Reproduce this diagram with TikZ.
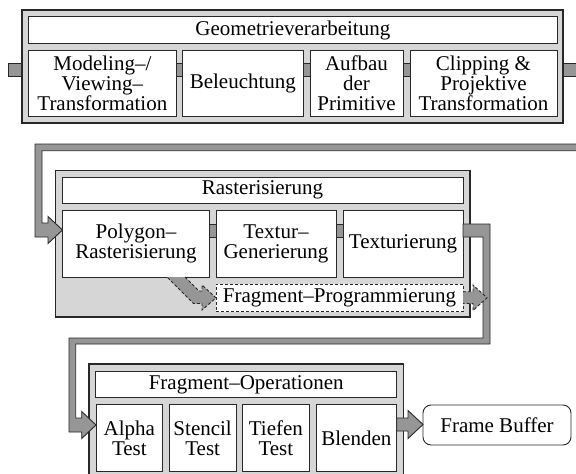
\documentclass[tikz,border=0pt]{standalone}
\usepackage{fontspec}
\setmainfont{Liberation Serif}
\definecolor{blockgray}{RGB}{214,214,214}
\definecolor{arrgray}{RGB}{150,150,150}
\definecolor{edgec}{RGB}{40,40,40}
\tikzset{
 txt/.style={font=\fontsize{21}{20}\selectfont, align=center},
 stage/.style={draw=edgec, fill=white, line width=0.9pt, inner sep=0pt, outer sep=0pt, txt},
 block/.style={draw=edgec, fill=blockgray, line width=1.1pt, inner sep=0pt, outer sep=0pt},
 optstage/.style={stage, dash pattern=on 3pt off 2pt},
 buffer/.style={stage, rounded corners=8pt},
 fatarrow/.style={draw=edgec, fill=arrgray, line width=0.9pt, line join=miter},
 optarrow/.style={fatarrow, dash pattern=on 3pt off 2pt},
}
\newcommand\bx[7][stage]{\node[#1, minimum width={#5-#3}, minimum height={#6-#4}] (#2) at ({(#3+#5)/2},{(#4+#6)/2}) {#7};}
\begin{document}
\begin{tikzpicture}[x=1pt,y=-1pt]
\useasboundingbox (0,0) rectangle (576,474);
\clip (0,0) rectangle (576,474);
% ---------- Geometrieverarbeitung ----------
\draw[fatarrow] (8,63.5) rectangle (30,76.7);
\bx[block]{geo}{22}{10}{563}{123}{}
\draw[fatarrow] (563,63.5) rectangle (590,76.7);
\draw[fatarrow] (170,63.5) rectangle (189,76.7);
\draw[fatarrow] (297,63.5) rectangle (316,76.7);
\draw[fatarrow] (397,63.5) rectangle (416,76.7);
\bx{geotitle}{28.7}{16.7}{557}{43.3}{Geometrieverarbeitung}
\bx{mv}{28.7}{50}{176}{116.7}{Modeling–/\\Viewing–\\Transformation}
\bx{bel}{182.7}{50}{303}{116.7}{Beleuchtung}
\bx{auf}{310}{50}{403}{116.7}{Aufbau\\der\\Primitive}
\bx{clip}{410}{50}{557}{116.7}{Clipping \&\\Projektive\\Transformation}
% ---------- Rasterisierung ----------
\bx[block]{ras}{55.7}{170.7}{470}{317}{}
\draw[fatarrow] (203,224) rectangle (222,237);
\draw[fatarrow] (330,224) rectangle (349,237);
\bx{rastitle}{62}{177}{463}{203.3}{Rasterisierung}
\bx{poly}{62.5}{210}{209.5}{277}{Polygon–\\Rasterisierung}
\bx{texgen}{216}{210}{336}{277}{Textur–\\Generierung}
\bx{tex}{343}{210}{463}{277}{Texturierung}
\bx[optstage]{fprog}{216}{284}{463}{311.7}{Fragment–Programmierung}
% ---------- Fragment-Operationen ----------
\bx[block]{fop}{89}{364}{403.3}{480}{}
\bx{foptitle}{95.7}{371}{396.7}{397.7}{Fragment–Operationen}
\bx{alpha}{96}{404}{162.7}{471.7}{Alpha\\Test}
\bx{stencil}{169.3}{404}{236}{471.7}{Stencil\\Test}
\bx{tiefen}{242.7}{404}{309}{471.7}{Tiefen\\Test}
\bx{blend}{316}{404}{396.7}{471.7}{Blenden}
\bx[buffer]{fb}{423}{405}{571}{445}{Frame Buffer}
% ---------- connectors ----------
\draw[fatarrow] (590,144) -- (35,144) -- (35,237) -- (48,237) -- (48,243.5)
  -- (poly.west |- 0,230) -- (48,216.5) -- (48,223) -- (42,223) -- (42,150.7) -- (590,150.7) -- cycle;
\draw[fatarrow] (tex.east |- 0,224) -- (490,224) -- (490,344) -- (75.7,344) -- (75.7,418)
  -- (81.7,418) -- (81.7,411.5) -- (alpha.west |- 0,425) -- (81.7,438.5) -- (81.7,432)
  -- (69,432) -- (69,338) -- (483,338) -- (483,237) -- (tex.east |- 0,237) -- cycle;
\filldraw[optarrow] (185,277) -- (199,291) -- (202,291) -- (202,285) -- (fprog.west)
  -- (202,310) -- (202,303.5) -- (193.5,303.5) -- (167,277);
\filldraw[optarrow] (fprog.east |- 0,291.7) -- (473,291.7) -- (473,285) -- (487,297.8)
  -- (473,310.5) -- (473,303.5) -- (fprog.east |- 0,303.5);
\draw[fatarrow] (blend.east |- 0,418) -- (408,418) -- (408,410.5) -- (fb.west |- 0,424.5)
  -- (408,438.5) -- (408,431) -- (blend.east |- 0,431) -- cycle;
\end{tikzpicture}
\end{document}
